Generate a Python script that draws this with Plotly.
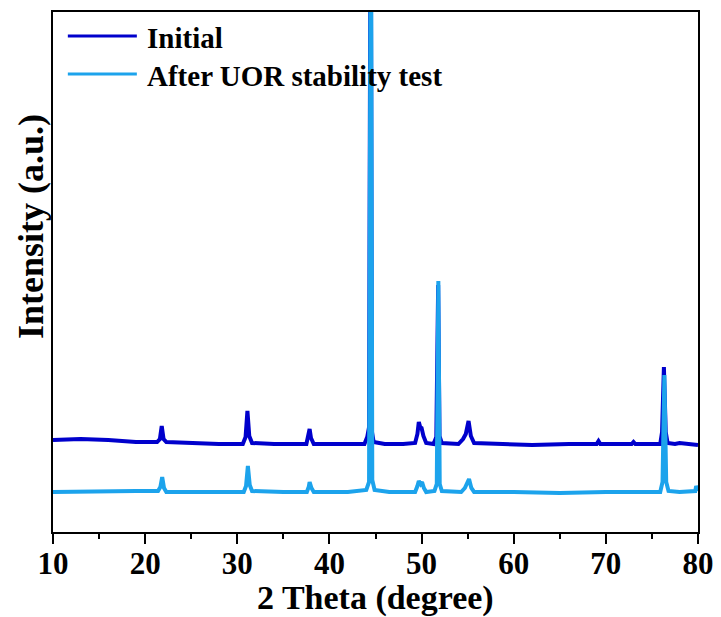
import plotly.graph_objects as go

# ---- data (2theta in degrees, intensity in arbitrary units) ----
initial_x = [10, 13, 16, 19, 21.3, 21.6, 21.8, 22.0, 22.3, 25, 28, 30.6, 30.9, 31.1, 31.3, 31.6,
             34, 37.5, 37.7, 37.85, 38.0, 38.3, 41, 43.8, 44.1, 44.3, 44.47, 44.62, 44.8, 46, 48,
             49.3, 49.55, 49.7, 49.85, 50.0, 50.2, 50.5, 51.3, 51.6, 51.8, 51.95, 52.2, 54, 54.5,
             54.8, 55.1, 55.35, 55.7, 58, 62, 66, 69, 69.2, 69.4, 72.8, 73.0, 73.2, 75.9, 76.1,
             76.3, 76.5, 76.7, 77.5, 78, 80]
initial_y = [92, 93, 92, 90, 90, 93, 106, 93, 90, 89, 88, 88, 95, 121, 96, 89,
             88, 88, 95, 103, 94, 88, 88, 88, 95, 105, 700, 100, 90, 88, 88,
             89, 98, 110, 105, 104, 96, 89, 88, 95, 247, 96, 89, 88, 93,
             98, 111, 96, 89, 88, 87, 88, 88, 91, 88, 88, 90, 88, 88, 100,
             165, 100, 89, 88, 89, 87]

after_x = [10, 15, 19, 21.4, 21.65, 21.85, 22.05, 22.3, 26, 30.7, 30.95, 31.15, 31.35, 31.6, 35,
           37.55, 37.75, 37.85, 38.05, 38.3, 42, 44.0, 44.3, 44.5, 44.65, 44.9, 46.5, 49.3, 49.55,
           49.7, 49.9, 50.05, 50.25, 50.5, 51.4, 51.65, 51.82, 51.97, 52.2, 54.3, 54.7, 55.15,
           55.4, 55.7, 60, 65, 70, 75.9, 76.15, 76.35, 76.55, 76.8, 78, 79.7, 79.8, 80]
after_y = [40, 41, 41, 41, 45, 55, 44, 40, 40, 40, 46, 66, 47, 41, 40,
           40, 45, 50, 44, 40, 40, 42, 50, 700, 52, 42, 40, 40, 46,
           51, 48, 50, 44, 40, 41, 48, 251, 48, 41, 40, 44, 53,
           44, 40, 40, 39, 40, 40, 50, 157, 50, 41, 40, 41, 46, 41]

series_names = ["Initial", "After UOR stability test"]
series_colors = ["#0000CC", "#1CA3EC"]

x_ticks = [10, 20, 30, 40, 50, 60, 70, 80]
x_title = "2 Theta (degree)"
y_title = "Intensity (a.u.)"

FONT = "Liberation Serif, Times New Roman, serif"

fig = go.Figure()
fig.add_trace(go.Scatter(x=initial_x, y=initial_y, mode="lines", name=series_names[0],
                         line=dict(color=series_colors[0], width=4), showlegend=False))
fig.add_trace(go.Scatter(x=after_x, y=after_y, mode="lines", name=series_names[1],
                         line=dict(color=series_colors[1], width=4), showlegend=False))

# manual legend (long line samples as in the reference)
leg_y = [0.9538, 0.8808]
for i in range(2):
    fig.add_shape(type="line", xref="paper", yref="paper", x0=0.023, x1=0.130,
                  y0=leg_y[i], y1=leg_y[i], line=dict(color=series_colors[i], width=3))
    fig.add_annotation(xref="paper", yref="paper", x=0.1426, y=leg_y[i] - 0.003,
                       text=series_names[i], showarrow=False, xanchor="left", yanchor="middle",
                       font=dict(family=FONT, size=29, color="black", weight="bold"))

# axis titles as text annotations
fig.add_annotation(xref="paper", yref="paper", x=-0.033, y=0.588, text=y_title,
                   showarrow=False, textangle=-90, xanchor="center", yanchor="middle",
                   font=dict(family=FONT, size=36, color="black", weight="bold"))
fig.add_annotation(xref="paper", yref="paper", x=0.5, y=-0.127, text=x_title,
                   showarrow=False, xanchor="center", yanchor="middle",
                   font=dict(family=FONT, size=34, color="black", weight="bold"))

fig.update_layout(
    width=721, height=617,
    margin=dict(l=53, r=23, t=12, b=85),
    paper_bgcolor="white", plot_bgcolor="white",
    font=dict(family=FONT, color="black"),
)
fig.update_xaxes(
    automargin=False,
    range=[10, 80], tickvals=x_ticks, ticks="outside", ticklen=10, tickwidth=2,
    tickcolor="black", showline=True, linewidth=2, linecolor="black", mirror=True,
    showgrid=False, zeroline=False, ticklabelstandoff=-7,
    minor=dict(dtick=5, ticks="outside", ticklen=5, tickwidth=2, tickcolor="black", showgrid=False),
    tickfont=dict(family=FONT, size=31, color="black", weight="bold"),
)
fig.update_yaxes(
    automargin=False,
    range=[0, 520], showticklabels=False, ticks="", showline=True, linewidth=2,
    linecolor="black", mirror=True, showgrid=False, zeroline=False,
)

fig.write_html("out.html")
